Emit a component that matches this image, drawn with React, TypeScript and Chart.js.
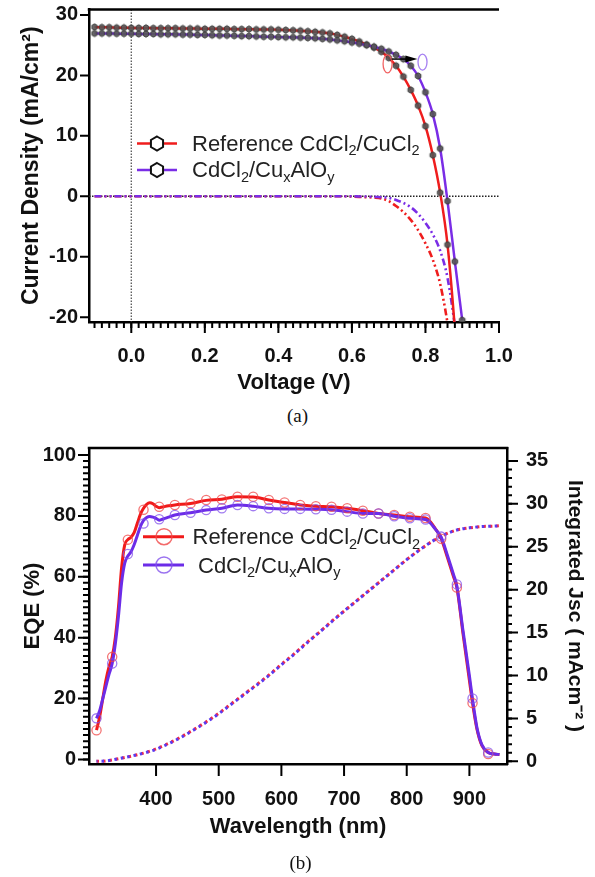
import React, { useEffect, useRef } from 'react';
import { Chart, registerables } from 'chart.js';

Chart.register(...registerables);

const FONT = '"Liberation Sans", Arial, Helvetica, sans-serif';

// ---------- (a) J-V data ----------
const voltage = [-0.10, -0.08, -0.06, -0.04, -0.02, 0.00, 0.02, 0.04, 0.06, 0.08, 0.10, 0.12, 0.14, 0.16, 0.18, 0.20, 0.22, 0.24, 0.26, 0.28, 0.30, 0.32, 0.34, 0.36, 0.38, 0.40, 0.42, 0.44, 0.46, 0.48, 0.50, 0.52, 0.54, 0.56, 0.58, 0.60, 0.62, 0.64, 0.66, 0.68, 0.70, 0.72, 0.74, 0.76, 0.78, 0.80, 0.82, 0.84, 0.86, 0.88, 0.90];
const jvReferenceLight = [28.0, 27.95, 27.95, 27.9, 27.9, 27.85, 27.85, 27.85, 27.8, 27.8, 27.8, 27.8, 27.75, 27.75, 27.75, 27.7, 27.7, 27.7, 27.7, 27.65, 27.65, 27.65, 27.6, 27.6, 27.6, 27.55, 27.5, 27.45, 27.4, 27.3, 27.2, 27.1, 26.95, 26.7, 26.4, 26.05, 25.6, 25.1, 24.6, 23.9, 22.9, 21.6, 19.8, 17.6, 15.0, 11.6, 6.8, 0.6, -8.0, -22.0, -40.0];
const jvCuAlOLight = [26.95, 26.95, 26.95, 26.9, 26.9, 26.9, 26.85, 26.85, 26.85, 26.8, 26.8, 26.8, 26.75, 26.75, 26.7, 26.7, 26.65, 26.6, 26.6, 26.55, 26.5, 26.5, 26.45, 26.4, 26.4, 26.35, 26.3, 26.3, 26.25, 26.2, 26.15, 26.05, 25.95, 25.8, 25.65, 25.45, 25.25, 25.0, 24.75, 24.4, 23.95, 23.4, 22.7, 21.6, 19.9, 17.2, 13.6, 7.9, -0.8, -10.8, -20.5];
const jvReferenceDark = [0, 0, 0, 0, 0, 0, 0, 0, 0, 0, 0, 0, 0, 0, 0, 0, 0, 0, 0, 0, 0, 0, 0, 0, 0, 0, 0, 0, 0, 0, 0, 0, 0, 0, 0, -0.05, -0.1, -0.15, -0.2, -0.35, -0.8, -1.6, -2.6, -3.9, -5.6, -7.8, -10.5, -14.5, -21.0, -30.0, null];
const jvCuAlODark = [0, 0, 0, 0, 0, 0, 0, 0, 0, 0, 0, 0, 0, 0, 0, 0, 0, 0, 0, 0, 0, 0, 0, 0, 0, 0, 0, 0, 0, 0, 0, 0, 0, 0, 0, 0, -0.03, -0.05, -0.1, -0.15, -0.25, -0.6, -1.1, -1.8, -2.9, -4.4, -6.3, -9.0, -13.5, -21.5, -32.0];
const jvXTicks = [0, 0.2, 0.4, 0.6, 0.8, 1.0];
const jvYTicks = [-20, -10, 0, 10, 20, 30];
// Voc-shift annotation (data coordinates)
const vocRefMark = [0.697, 21.9];
const vocNewMark = [0.792, 22.2];
const vocArrowV = [0.708, 0.778];
const vocArrowJ = 22.7;

// ---------- (b) EQE data ----------
const eqeCurveWavelength = [305, 310, 315, 320, 325, 330, 335, 340, 345, 350, 355, 360, 365, 370, 375, 380, 385, 390, 395, 400, 405, 410, 420, 430, 455, 480, 505, 530, 555, 580, 605, 630, 655, 680, 705, 730, 755, 780, 805, 830, 838, 845, 855, 865, 875, 880, 890, 900, 905, 912, 920, 930, 940, 948];
const eqeReferenceCurve = [9.6, 14, 20, 26, 30.5, 33.7, 40, 50, 63, 70.5, 72.2, 73, 74.5, 77.5, 80.5, 82.5, 83.8, 84.3, 84, 83.2, 82.7, 82.9, 83.3, 83.6, 84.1, 85.1, 85.5, 86.3, 86.2, 85.2, 84.4, 83.6, 83.2, 83, 82.5, 81.7, 80.8, 80.3, 79.7, 79.3, 78, 76, 72.5, 66.3, 59.8, 56.5, 41, 26, 18.5, 10, 4.5, 2.3, 1.8, 1.6];
const eqeCuAlOCurve = [13.5, 16, 20, 24, 28, 31.5, 38, 47, 58, 64.5, 66.8, 68.2, 70.5, 73.5, 76.5, 78.5, 79.5, 79.8, 79.6, 79.2, 78.6, 78.9, 79.6, 80.3, 81, 81.9, 82.5, 83.6, 83.2, 82.5, 82.3, 82.3, 82.2, 82, 81.4, 80.8, 80.8, 79.9, 79.2, 78.8, 77.6, 75.8, 73, 67, 60.5, 57, 42, 27.5, 19.8, 10.5, 4.8, 2.3, 1.8, 1.6];
const eqeMarkerWavelength = [305, 330, 355, 380, 405, 430, 455, 480, 505, 530, 555, 580, 605, 630, 655, 680, 705, 730, 755, 780, 805, 830, 855, 880, 905, 930];
const eqeReferenceMarkers = [9.6, 33.7, 72.2, 82, 83, 83.6, 84.1, 85.2, 85.4, 86.3, 86.3, 85.2, 84.4, 83.6, 83.2, 83, 82.5, 81.7, 80.8, 80.3, 79.7, 79.3, 72.5, 56.5, 18.5, 1.8];
const eqeCuAlOMarkers = [13.5, 31.5, 67.5, 77.5, 78.9, 80.3, 81, 81.9, 82.5, 83.6, 83.2, 82.5, 82.3, 82.3, 82.2, 82, 81.4, 80.8, 80.8, 79.9, 79.2, 78.8, 73.2, 57.5, 20, 2.3];
const jscWavelength = [305, 320, 340, 360, 380, 400, 420, 440, 460, 480, 500, 520, 540, 560, 580, 600, 620, 640, 660, 680, 700, 720, 740, 760, 780, 800, 820, 840, 860, 880, 900, 920, 940, 950];
const jscReference = [0, 0.05, 0.3, 0.6, 0.95, 1.45, 2.1, 2.85, 3.7, 4.6, 5.6, 6.7, 7.8, 8.9, 10.05, 11.3, 12.5, 13.8, 15.0, 16.3, 17.5, 18.7, 19.9, 21.1, 22.3, 23.5, 24.6, 25.6, 26.4, 26.95, 27.2, 27.35, 27.4, 27.45];
const jscCuAlO = [0, 0.05, 0.3, 0.6, 0.95, 1.4, 2.05, 2.8, 3.65, 4.55, 5.55, 6.65, 7.75, 8.85, 10.0, 11.25, 12.45, 13.75, 15.0, 16.25, 17.5, 18.7, 19.9, 21.1, 22.3, 23.5, 24.6, 25.6, 26.4, 26.95, 27.2, 27.35, 27.4, 27.45];
const eqeXTicks = [400, 500, 600, 700, 800, 900];
const eqeYTicks = [0, 20, 40, 60, 80, 100];
const jscYTicks = [0, 5, 10, 15, 20, 25, 30, 35];

const RED_A = '#ef1d1d';
const PURPLE_A = '#7a2de6';
const RED_B = '#f01a1a';
const PURPLE_B = '#6c2ce8';

type Seg = { t: string; s?: 'sub' | 'sup' };
const legendRefSegs: Seg[] = [{ t: 'Reference CdCl' }, { t: '2', s: 'sub' }, { t: '/CuCl' }, { t: '2', s: 'sub' }];
const legendNewSegs: Seg[] = [{ t: 'CdCl' }, { t: '2', s: 'sub' }, { t: '/Cu' }, { t: 'x', s: 'sub' }, { t: 'AlO' }, { t: 'y', s: 'sub' }];

function pts(xs: number[], ys: (number | null)[]) {
  return xs.map((x, i) => ({ x, y: ys[i] }));
}

function range(a: number, b: number, step: number) {
  const out: number[] = [];
  for (let i = 0; a + i * step <= b + 1e-9; i++) out.push(+(a + i * step).toFixed(6));
  return out;
}

function drawRich(ctx: CanvasRenderingContext2D, segs: Seg[], x: number, y: number, size: number, color: string) {
  let cx = x;
  ctx.fillStyle = color;
  ctx.textBaseline = 'middle';
  ctx.textAlign = 'left';
  for (const seg of segs) {
    const fs = seg.s ? size * 0.66 : size;
    ctx.font = `${fs}px ${FONT}`;
    const dy = seg.s === 'sub' ? size * 0.3 : seg.s === 'sup' ? -size * 0.35 : 0;
    ctx.fillText(seg.t, cx, y + dy);
    cx += ctx.measureText(seg.t).width;
  }
}

function tickMarks(ctx: CanvasRenderingContext2D, scale: any, values: number[], side: string, edge: number, len: number) {
  ctx.beginPath();
  for (const v of values) {
    const p = scale.getPixelForValue(v);
    if (side === 'bottom') { ctx.moveTo(p, edge); ctx.lineTo(p, edge + len); }
    else if (side === 'left') { ctx.moveTo(edge, p); ctx.lineTo(edge - len, p); }
    else { ctx.moveTo(edge, p); ctx.lineTo(edge + len, p); }
  }
  ctx.stroke();
}

function hexPath(ctx: CanvasRenderingContext2D, cx: number, cy: number, r: number) {
  ctx.beginPath();
  for (let k = 0; k < 6; k++) {
    const a = -Math.PI / 2 + (k * Math.PI) / 3;
    const x = cx + r * Math.cos(a);
    const y = cy + r * Math.sin(a);
    if (k) ctx.lineTo(x, y); else ctx.moveTo(x, y);
  }
  ctx.closePath();
}

function makeHexMarker(r: number, fill: string, stroke: string, lw: number) {
  const c = document.createElement('canvas');
  const s = Math.ceil(2 * r + lw + 2);
  c.width = s; c.height = s;
  const g = c.getContext('2d')!;
  hexPath(g, s / 2, s / 2, r);
  g.fillStyle = fill; g.fill();
  g.strokeStyle = stroke; g.lineWidth = lw; g.stroke();
  return c;
}

const tickFont = { family: FONT, size: 20, weight: 'bold' as const };
const titleFont = { family: FONT, size: 22, weight: 'bold' as const };

function configA(): any {
  const hex = makeHexMarker(3.2, 'rgba(85,85,85,0.9)', '#3a3a3a', 1);
  const light = (label: string, ys: number[], color: string) => ({
    label, data: pts(voltage, ys), borderColor: color, backgroundColor: color, borderWidth: 2.5,
    pointStyle: hex, pointRadius: 3, cubicInterpolationMode: 'monotone', clip: 0,
  });
  const dark = (label: string, ys: (number | null)[], color: string) => ({
    label, data: pts(voltage, ys), borderColor: color, borderWidth: 2.6, borderDash: [7, 3, 2, 3, 2, 3],
    pointRadius: 0, cubicInterpolationMode: 'monotone', clip: 0,
  });
  const plugin = {
    id: 'jvDecor',
    beforeDatasetsDraw(chart: any) {
      const { ctx, chartArea: a, scales: { x, y } } = chart;
      ctx.save();
      ctx.setLineDash([1.5, 1.5]);
      ctx.strokeStyle = '#555'; ctx.lineWidth = 1.3;
      const x0 = x.getPixelForValue(0);
      ctx.beginPath(); ctx.moveTo(x0, a.top); ctx.lineTo(x0, a.bottom); ctx.stroke();
      ctx.strokeStyle = '#222'; ctx.lineWidth = 1.5;
      const y0 = y.getPixelForValue(0);
      ctx.beginPath(); ctx.moveTo(a.left, y0); ctx.lineTo(a.right, y0); ctx.stroke();
      ctx.restore();
    },
    afterDraw(chart: any) {
      const { ctx, chartArea: a, scales: { x, y } } = chart;
      ctx.save();
      ctx.setLineDash([]);
      ctx.strokeStyle = '#000'; ctx.lineWidth = 2.5;
      ctx.beginPath(); ctx.moveTo(a.left - 1.25, a.top); ctx.lineTo(a.right, a.top); ctx.stroke();
      ctx.lineWidth = 2;
      tickMarks(ctx, x, range(-0.1, 1.0, 0.02), 'bottom', a.bottom, 6);
      tickMarks(ctx, x, jvXTicks, 'bottom', a.bottom, 11);
      tickMarks(ctx, y, jvYTicks, 'left', a.left, 9);
      // annotation: ellipses + arrow
      ctx.lineWidth = 1.3;
      ctx.strokeStyle = 'rgba(240,90,90,0.95)';
      ctx.beginPath(); ctx.ellipse(x.getPixelForValue(vocRefMark[0]), y.getPixelForValue(vocRefMark[1]), 4.5, 9, 0, 0, Math.PI * 2); ctx.stroke();
      ctx.strokeStyle = 'rgba(160,120,240,0.95)';
      ctx.beginPath(); ctx.ellipse(x.getPixelForValue(vocNewMark[0]), y.getPixelForValue(vocNewMark[1]), 4.5, 8, 0, 0, Math.PI * 2); ctx.stroke();
      const ax1 = x.getPixelForValue(vocArrowV[0]);
      const ax2 = x.getPixelForValue(vocArrowV[1]);
      const ay = y.getPixelForValue(vocArrowJ);
      ctx.strokeStyle = '#000'; ctx.lineWidth = 1.5;
      ctx.beginPath(); ctx.moveTo(ax1, ay); ctx.lineTo(ax2 - 8, ay); ctx.stroke();
      ctx.fillStyle = '#000';
      ctx.beginPath(); ctx.moveTo(ax2, ay); ctx.lineTo(ax2 - 12, ay - 3.5); ctx.lineTo(ax2 - 12, ay + 3.5); ctx.closePath(); ctx.fill();
      // legend
      const rows = [
        { color: RED_A, y: 143.5, segs: legendRefSegs },
        { color: PURPLE_A, y: 170, segs: legendNewSegs },
      ];
      for (const r of rows) {
        ctx.strokeStyle = r.color; ctx.lineWidth = 2.6;
        ctx.beginPath(); ctx.moveTo(137, r.y); ctx.lineTo(177, r.y); ctx.stroke();
        hexPath(ctx, 157, r.y, 7);
        ctx.fillStyle = '#fff'; ctx.fill();
        ctx.strokeStyle = '#111'; ctx.lineWidth = 2; ctx.stroke();
        drawRich(ctx, r.segs, 192, r.y + 1, 22, '#222');
      }
      ctx.restore();
    },
  };
  return {
    type: 'line',
    data: {
      datasets: [
        light('CdCl2/CuxAlOy', jvCuAlOLight, PURPLE_A),
        light('Reference CdCl2/CuCl2', jvReferenceLight, RED_A),
        dark('CdCl2/CuxAlOy dark', jvCuAlODark, PURPLE_A),
        dark('Reference dark', jvReferenceDark, RED_A),
      ],
    },
    options: {
      responsive: false, animation: false, events: [],
      layout: { padding: { top: 9.5, right: 96, bottom: 0, left: 0 } },
      plugins: { legend: { display: false }, tooltip: { enabled: false } },
      scales: {
        x: {
          type: 'linear', min: -0.115, max: 1.0,
          afterBuildTicks: (s: any) => { s.ticks = jvXTicks.map((v) => ({ value: v })); },
          afterFit: (s: any) => { s.height = 78; s.paddingLeft = 0; s.paddingRight = 0; },
          grid: { display: false, drawTicks: false },
          border: { display: true, color: '#000', width: 2.5 },
          ticks: { font: tickFont, color: '#111', padding: 22.5, maxRotation: 0, callback: (v: any) => Number(v).toFixed(1) },
          title: { display: true, text: 'Voltage (V)', font: titleFont, color: '#111', padding: { top: 0, bottom: 3.8 } },
        },
        y: {
          type: 'linear', min: -20.8, max: 30.9,
          afterBuildTicks: (s: any) => { s.ticks = jvYTicks.map((v) => ({ value: v })); },
          afterFit: (s: any) => { s.width = 89; s.paddingTop = 0; s.paddingBottom = 0; },
          grid: { display: false, drawTicks: false },
          border: { display: true, color: '#000', width: 2.5 },
          ticks: { font: tickFont, color: '#111', padding: 11, callback: (v: any) => String(v) },
          title: { display: true, text: 'Current Density (mA/cm²)', font: { family: FONT, size: 23, weight: 'bold' }, color: '#111', padding: { top: 18.2, bottom: 0 } },
        },
      },
    },
    plugins: [plugin],
  };
}

function configB(): any {
  const curve = (label: string, ys: number[], color: string) => ({
    label, data: pts(eqeCurveWavelength, ys), borderColor: color, borderWidth: 3,
    pointRadius: 0, cubicInterpolationMode: 'monotone', yAxisID: 'y',
  });
  const markers = (label: string, ys: number[], color: string) => ({
    label, data: pts(eqeMarkerWavelength, ys), showLine: false, borderColor: color, backgroundColor: 'rgba(0,0,0,0)',
    pointRadius: 4.6, pointBorderWidth: 1.3, pointStyle: 'circle', yAxisID: 'y',
  });
  const jsc = (label: string, ys: number[], color: string, offset: number) => ({
    label, data: pts(jscWavelength, ys), borderColor: color, borderWidth: 3, borderDash: [2.5, 4],
    borderDashOffset: offset, borderCapStyle: 'butt', pointRadius: 0, cubicInterpolationMode: 'monotone', yAxisID: 'y2',
  });
  const plugin = {
    id: 'eqeDecor',
    afterDraw(chart: any) {
      const { ctx, chartArea: a, scales: { x, y, y2 } } = chart;
      ctx.save();
      ctx.setLineDash([]);
      ctx.strokeStyle = '#000'; ctx.lineWidth = 2.5;
      ctx.beginPath(); ctx.moveTo(a.left - 1.25, a.top); ctx.lineTo(a.right + 1.25, a.top); ctx.stroke();
      ctx.lineWidth = 2;
      tickMarks(ctx, y, range(0, 100, 2), 'left', a.left, 6);
      tickMarks(ctx, y, eqeYTicks, 'left', a.left, 11);
      tickMarks(ctx, y2, range(0, 35, 1), 'right', a.right, 5);
      tickMarks(ctx, y2, jscYTicks, 'right', a.right, 11);
      tickMarks(ctx, x, eqeXTicks, 'bottom', a.bottom, 12);
      const rows = [
        { color: RED_B, mk: 'rgba(240,70,70,0.8)', y: 106.7, segs: legendRefSegs, tx: 192.5 },
        { color: PURPLE_B, mk: 'rgba(130,80,235,0.8)', y: 135, segs: legendNewSegs, tx: 198 },
      ];
      for (const r of rows) {
        ctx.strokeStyle = r.color; ctx.lineWidth = 3;
        ctx.beginPath(); ctx.moveTo(143, r.y); ctx.lineTo(184, r.y); ctx.stroke();
        ctx.strokeStyle = r.mk; ctx.lineWidth = 1.5;
        ctx.beginPath(); ctx.arc(164, r.y, 8, 0, Math.PI * 2); ctx.stroke();
        drawRich(ctx, r.segs, r.tx, r.y + 1.5, 22, '#222');
      }
      ctx.restore();
    },
  };
  return {
    type: 'line',
    data: {
      datasets: [
        markers('CdCl2/CuxAlOy markers', eqeCuAlOMarkers, 'rgba(130,80,235,0.75)'),
        markers('Reference markers', eqeReferenceMarkers, 'rgba(240,70,70,0.75)'),
        curve('CdCl2/CuxAlOy', eqeCuAlOCurve, PURPLE_B),
        curve('Reference CdCl2/CuCl2', eqeReferenceCurve, RED_B),
        jsc('Jsc CdCl2/CuxAlOy', jscCuAlO, '#5a3af0', 1.5),
        jsc('Jsc Reference', jscReference, '#f02a4a', 0),
      ],
    },
    options: {
      responsive: false, animation: false, events: [],
      layout: { padding: { top: 18, right: 0, bottom: 0, left: 0 } },
      plugins: { legend: { display: false }, tooltip: { enabled: false } },
      scales: {
        x: {
          type: 'linear', min: 293, max: 960,
          afterBuildTicks: (s: any) => { s.ticks = eqeXTicks.map((v) => ({ value: v })); },
          afterFit: (s: any) => { s.height = 113; s.paddingLeft = 0; s.paddingRight = 0; },
          grid: { display: false, drawTicks: false },
          border: { display: true, color: '#000', width: 2.5 },
          ticks: { font: tickFont, color: '#111', padding: 23, maxRotation: 0, callback: (v: any) => String(v) },
          title: { display: true, text: 'Wavelength (nm)', font: titleFont, color: '#111', padding: { top: 0, bottom: 36.8 } },
        },
        y: {
          type: 'linear', position: 'left', min: -1.5, max: 102.3,
          afterBuildTicks: (s: any) => { s.ticks = eqeYTicks.map((v) => ({ value: v })); },
          afterFit: (s: any) => { s.width = 89; s.paddingTop = 0; s.paddingBottom = 0; },
          grid: { display: false, drawTicks: false },
          border: { display: true, color: '#000', width: 2.5 },
          ticks: { font: tickFont, color: '#111', padding: 13, callback: (v: any) => String(v) },
          title: { display: true, text: 'EQE (%)', font: titleFont, color: '#111', padding: { top: 19.8, bottom: 0 } },
        },
        y2: {
          type: 'linear', position: 'right', min: -0.31, max: 36.5,
          afterBuildTicks: (s: any) => { s.ticks = jscYTicks.map((v) => ({ value: v })); },
          afterFit: (s: any) => { s.width = 88; s.paddingTop = 0; s.paddingBottom = 0; },
          grid: { display: false, drawTicks: false },
          border: { display: true, color: '#000', width: 2.5 },
          ticks: { font: tickFont, color: '#111', padding: 19, callback: (v: any) => String(v) },
          title: { display: true, text: 'Integrated Jsc ( mAcm⁻² )', font: { family: FONT, size: 21, weight: 'bold' }, color: '#111', padding: { top: 7.8, bottom: 0 } },
        },
      },
    },
    plugins: [plugin],
  };
}

export default function App() {
  const refA = useRef<HTMLCanvasElement>(null);
  const refB = useRef<HTMLCanvasElement>(null);
  useEffect(() => {
    const ca = new Chart(refA.current!, configA());
    const cb = new Chart(refB.current!, configB());
    return () => { ca.destroy(); cb.destroy(); };
  }, []);
  const capStyle: React.CSSProperties = {
    position: 'absolute', left: 0, width: 595, textAlign: 'center',
    font: '19px "Liberation Serif", "Times New Roman", serif', color: '#111', lineHeight: '22px',
  };
  return (
    <div style={{ position: 'absolute', left: 0, top: 0, width: 595, height: 877, background: '#fff', overflow: 'hidden' }}>
      <canvas ref={refA} width={595} height={400} style={{ position: 'absolute', left: 0, top: 0, width: 595, height: 400 }} />
      <div style={{ ...capStyle, top: 405 }}>(a)</div>
      <canvas ref={refB} width={595} height={447} style={{ position: 'absolute', left: 0, top: 430, width: 595, height: 447 }} />
      <div style={{ ...capStyle, top: 852, left: 3 }}>(b)</div>
    </div>
  );
}
